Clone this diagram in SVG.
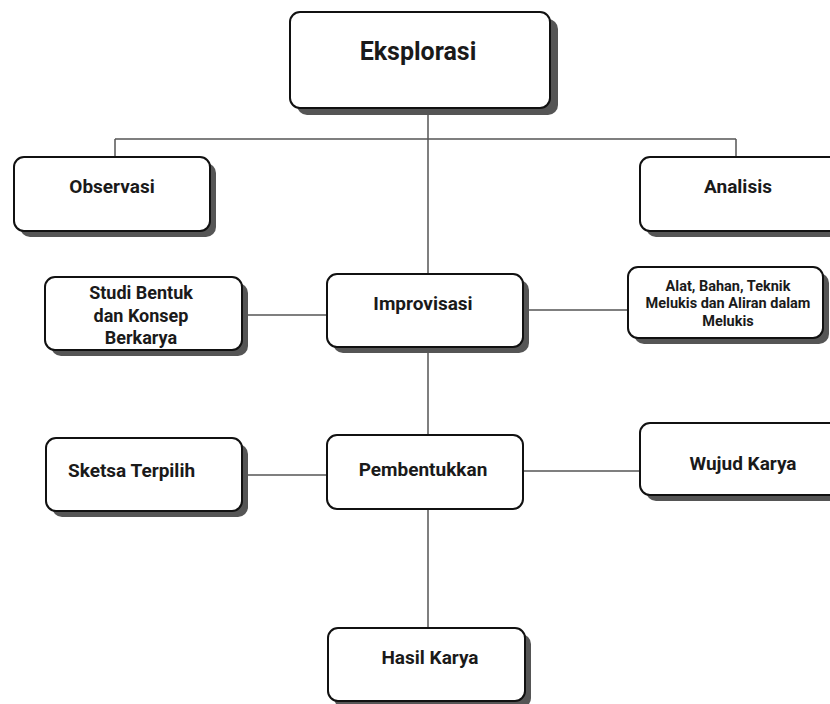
<svg xmlns="http://www.w3.org/2000/svg" width="830" height="704" viewBox="0 0 830 704">
<style>
.sh{fill:#555}
.bx{fill:#fff;stroke:#111;stroke-width:2}
.ln{stroke:#555;stroke-width:1.5;fill:none}
text{font-family:Roboto,"Liberation Sans",sans-serif;font-weight:bold;fill:#1a1a1a;text-anchor:middle}
.t16{font-size:19px}
.t15{font-size:18px}
.t12{font-size:14.5px}
</style>
<rect width="830" height="704" fill="#fff"/>
<g id="connectors">
<path class="ln" d="M115 139H736M115 139V157M736 139V157M428 108V274M428 347V435M428 509V628M242 315H327M523 310H628M242 475H327M523 471H640"/>
</g>
<g id="eksplorasi">
<rect class="sh" x="297" y="19" width="261" height="96" rx="10"/>
<rect class="bx" x="290" y="12" width="260" height="96" rx="10"/>
<text x="418" y="60" style="font-size:25px">Eksplorasi</text>
</g>
<g id="observasi">
<rect class="sh" x="20" y="163" width="196" height="74" rx="10"/>
<rect class="bx" x="14" y="157" width="196" height="74" rx="10"/>
<text class="t16" x="112" y="193">Observasi</text>
</g>
<g id="analisis">
<rect class="sh" x="646" y="163" width="200" height="74" rx="10"/>
<rect class="bx" x="640" y="157" width="200" height="74" rx="10"/>
<text class="t16" x="738" y="193">Analisis</text>
</g>
<g id="studi">
<rect class="sh" x="51" y="283" width="197" height="73" rx="10"/>
<rect class="bx" x="45" y="277" width="197" height="73" rx="10"/>
<text class="t15" x="141" y="299">Studi Bentuk</text>
<text class="t15" x="141" y="322">dan Konsep</text>
<text class="t15" x="141" y="344">Berkarya</text>
</g>
<g id="improvisasi">
<rect class="sh" x="333" y="280" width="196" height="73" rx="10"/>
<rect class="bx" x="327" y="274" width="196" height="73" rx="10"/>
<text class="t16" x="423" y="310">Improvisasi</text>
</g>
<g id="alat">
<rect class="sh" x="634" y="273" width="195" height="71" rx="10"/>
<rect class="bx" x="628" y="267" width="195" height="71" rx="10"/>
<text class="t12" x="728" y="291">Alat, Bahan, Teknik</text>
<text class="t12" x="728" y="308">Melukis dan Aliran dalam</text>
<text class="t12" x="728" y="326">Melukis</text>
</g>
<g id="sketsa">
<rect class="sh" x="52" y="444" width="196" height="73" rx="10"/>
<rect class="bx" x="46" y="438" width="196" height="73" rx="10"/>
<text class="t16" x="68" y="477" style="text-anchor:start">Sketsa Terpilih</text>
</g>
<g id="pembentukkan">
<rect class="bx" x="327" y="435" width="196" height="74" rx="10"/>
<text class="t16" x="423" y="476">Pembentukkan</text>
</g>
<g id="wujud">
<rect class="sh" x="646" y="429" width="200" height="72" rx="10"/>
<rect class="bx" x="640" y="423" width="200" height="72" rx="10"/>
<text class="t16" x="743" y="470">Wujud Karya</text>
</g>
<g id="hasil">
<rect class="sh" x="334" y="634" width="197" height="74" rx="10"/>
<rect class="bx" x="328" y="628" width="197" height="73" rx="10"/>
<text class="t16" x="430" y="664">Hasil Karya</text>
</g>
</svg>
